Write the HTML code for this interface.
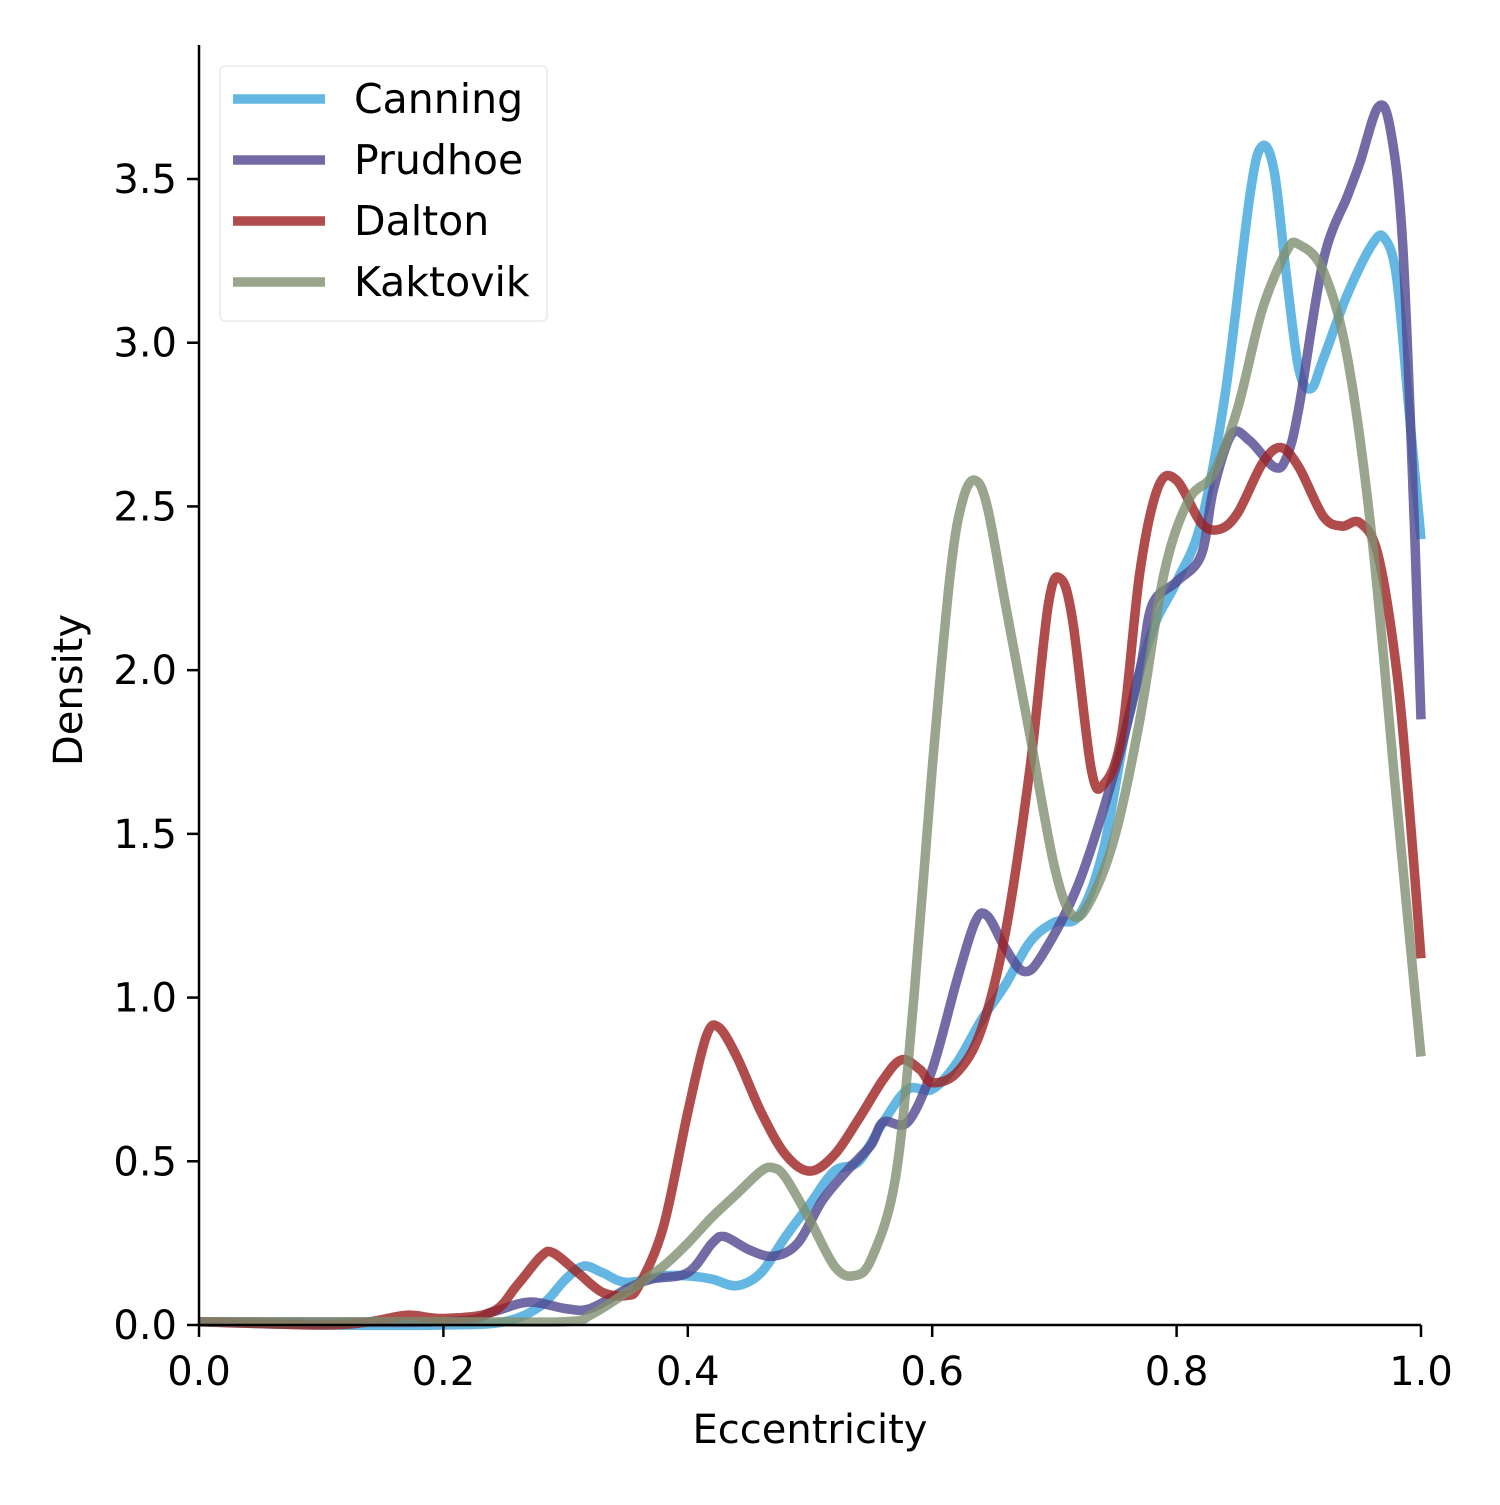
<!DOCTYPE html>
<html><head><meta charset="utf-8"><style>
body{margin:0;background:#fff}
svg text{font-family:"DejaVu Sans","Liberation Sans",sans-serif;fill:#000}
</style></head><body>
<svg id="chart" width="1500" height="1500" viewBox="0 0 1500 1500" xmlns="http://www.w3.org/2000/svg">
<rect width="1500" height="1500" fill="#fff"/>
<g id="series"></g>
<g id="axes"></g>
<g id="legend"></g>
</svg>
<script>
const seriesNames = ["Canning","Prudhoe","Dalton","Kaktovik"];
const seriesColors = ["#3da5db","#4f4690","#9c1f1f","#7f8f6f"];
const canningX = [0,0.1,0.2,0.25,0.28,0.3,0.315,0.33,0.35,0.38,0.4,0.42,0.44,0.46,0.48,0.5,0.52,0.54,0.56,0.58,0.6,0.62,0.64,0.66,0.68,0.7,0.72,0.74,0.76,0.78,0.8,0.82,0.84,0.86,0.87,0.88,0.89,0.9,0.91,0.92,0.94,0.96,0.97,0.98,0.99,1.0];
const canningY = [0.01,0.0,0.0,0.01,0.06,0.14,0.18,0.16,0.13,0.15,0.15,0.14,0.12,0.16,0.27,0.37,0.47,0.5,0.62,0.72,0.72,0.8,0.93,1.04,1.17,1.23,1.25,1.45,1.85,2.12,2.27,2.45,2.85,3.45,3.6,3.52,3.2,2.92,2.86,2.95,3.15,3.3,3.32,3.2,2.8,2.4];
const prudhoeX = [0,0.2,0.24,0.27,0.3,0.32,0.35,0.37,0.4,0.42,0.43,0.45,0.47,0.49,0.51,0.53,0.55,0.56,0.58,0.6,0.62,0.635,0.645,0.66,0.675,0.69,0.72,0.75,0.77,0.78,0.8,0.82,0.83,0.845,0.86,0.88,0.89,0.9,0.92,0.94,0.95,0.965,0.975,0.985,0.995,1.0];
const prudhoeY = [0.01,0.01,0.04,0.07,0.05,0.05,0.11,0.14,0.16,0.25,0.27,0.23,0.21,0.25,0.38,0.47,0.55,0.62,0.62,0.78,1.05,1.23,1.25,1.15,1.08,1.13,1.35,1.7,2.0,2.2,2.27,2.35,2.55,2.72,2.7,2.62,2.65,2.8,3.25,3.45,3.55,3.72,3.65,3.3,2.4,1.85];
const daltonX = [0,0.1,0.14,0.17,0.2,0.24,0.26,0.28,0.29,0.31,0.33,0.35,0.36,0.38,0.4,0.415,0.425,0.44,0.46,0.48,0.5,0.52,0.54,0.56,0.575,0.59,0.6,0.62,0.64,0.66,0.68,0.695,0.705,0.715,0.73,0.74,0.755,0.77,0.785,0.8,0.82,0.835,0.85,0.87,0.885,0.9,0.92,0.935,0.95,0.965,0.98,0.99,1.0];
const daltonY = [0.01,0.0,0.01,0.03,0.02,0.04,0.12,0.21,0.22,0.16,0.1,0.09,0.12,0.3,0.65,0.88,0.91,0.82,0.65,0.52,0.47,0.52,0.63,0.75,0.81,0.78,0.74,0.77,0.9,1.2,1.7,2.2,2.28,2.15,1.7,1.65,1.8,2.3,2.56,2.58,2.45,2.43,2.48,2.63,2.68,2.62,2.47,2.44,2.45,2.35,2.0,1.6,1.12];
const kaktovikX = [0,0.2,0.3,0.32,0.35,0.38,0.4,0.42,0.44,0.46,0.47,0.48,0.5,0.52,0.535,0.55,0.57,0.585,0.6,0.615,0.625,0.635,0.645,0.66,0.68,0.7,0.715,0.73,0.75,0.77,0.79,0.81,0.83,0.85,0.87,0.89,0.9,0.92,0.94,0.96,0.98,1.0];
const kaktovikY = [0.01,0.01,0.01,0.03,0.1,0.18,0.25,0.33,0.4,0.47,0.48,0.45,0.32,0.18,0.15,0.2,0.45,1.0,1.7,2.3,2.52,2.58,2.5,2.2,1.8,1.4,1.25,1.3,1.5,1.85,2.3,2.52,2.6,2.8,3.1,3.28,3.3,3.22,2.95,2.4,1.6,0.82];
const xTicks = [0,0.2,0.4,0.6,0.8,1.0];
const xTickLabels = ["0.0","0.2","0.4","0.6","0.8","1.0"];
const yTicks = [0,0.5,1.0,1.5,2.0,2.5,3.0,3.5];
const yTickLabels = ["0.0","0.5","1.0","1.5","2.0","2.5","3.0","3.5"];

const NS="http://www.w3.org/2000/svg";
const X0=199,X1=1421,Y0=1325,YTOP=45,YS=(1325-179)/3.5;
function sx(v){return X0+v*(X1-X0);}
function sy(v){return Y0-v*YS;}
function mk(tag,attrs,parent){const e=document.createElementNS(NS,tag);for(const k in attrs)e.setAttribute(k,attrs[k]);parent.appendChild(e);return e;}
function smoothPath(xs,ys){
  const p=xs.map((x,i)=>[sx(x),sy(ys[i])]);
  let d="M"+p[0][0].toFixed(1)+","+p[0][1].toFixed(1);
  for(let i=0;i<p.length-1;i++){
    const p0=p[Math.max(0,i-1)],p1=p[i],p2=p[i+1],p3=p[Math.min(p.length-1,i+2)];
    const c1=[p1[0]+(p2[0]-p0[0])/6,p1[1]+(p2[1]-p0[1])/6];
    const c2=[p2[0]-(p3[0]-p1[0])/6,p2[1]-(p3[1]-p1[1])/6];
    d+="C"+c1[0].toFixed(1)+","+c1[1].toFixed(1)+" "+c2[0].toFixed(1)+","+c2[1].toFixed(1)+" "+p2[0].toFixed(1)+","+p2[1].toFixed(1);
  }
  return d;
}
const sg=document.getElementById('series');
const allX=[canningX,prudhoeX,daltonX,kaktovikX],allY=[canningY,prudhoeY,daltonY,kaktovikY];
for(let s=0;s<4;s++){
  const el=mk('path',{d:smoothPath(allX[s],allY[s]),fill:"none",stroke:seriesColors[s],"stroke-width":9.5,"stroke-opacity":0.8},sg);
  
  
}
const ag=document.getElementById('axes');
const yl=mk('line',{x1:X0,y1:YTOP,x2:X0,y2:Y0+1,stroke:"#000","stroke-width":2.5},ag);


const xl=mk('line',{x1:X0-1,y1:Y0,x2:X1,y2:Y0,stroke:"#000","stroke-width":2.5},ag);


xTicks.forEach((t,i)=>{
  mk('line',{x1:sx(t),y1:Y0,x2:sx(t),y2:Y0+12,stroke:"#000","stroke-width":2.5},ag);
  const tx=mk('text',{x:sx(t),y:1385,"text-anchor":"middle","font-size":40},ag);
  tx.textContent=xTickLabels[i];
  
  
});
yTicks.forEach((t,i)=>{
  mk('line',{x1:X0-12,y1:sy(t),x2:X0,y2:sy(t),stroke:"#000","stroke-width":2.5},ag);
  const tx=mk('text',{x:X0-22,y:sy(t)+14,"text-anchor":"end","font-size":40},ag);
  tx.textContent=yTickLabels[i];
  
  
});
const xt=mk('text',{x:810,y:1443,"text-anchor":"middle","font-size":40},ag);
xt.textContent="Eccentricity";


const yt=mk('text',{x:0,y:0,"text-anchor":"middle","font-size":40,transform:"translate(82,690) rotate(-90)"},ag);
yt.textContent="Density";


const lg=document.getElementById('legend');
mk('rect',{x:220,y:66,width:327,height:255,rx:5,fill:"#fff","fill-opacity":0.8,stroke:"#eee","stroke-width":2},lg);
seriesNames.forEach((n,i)=>{
  const y=99+i*61;
  const ln=mk('line',{x1:233,y1:y,x2:325,y2:y,stroke:seriesColors[i],"stroke-width":9.5,"stroke-opacity":0.8},lg);
  
  
  const tx=mk('text',{x:354,y:y+14,"font-size":41},lg);
  tx.textContent=n;
  
  
});
</script>
</body></html>
